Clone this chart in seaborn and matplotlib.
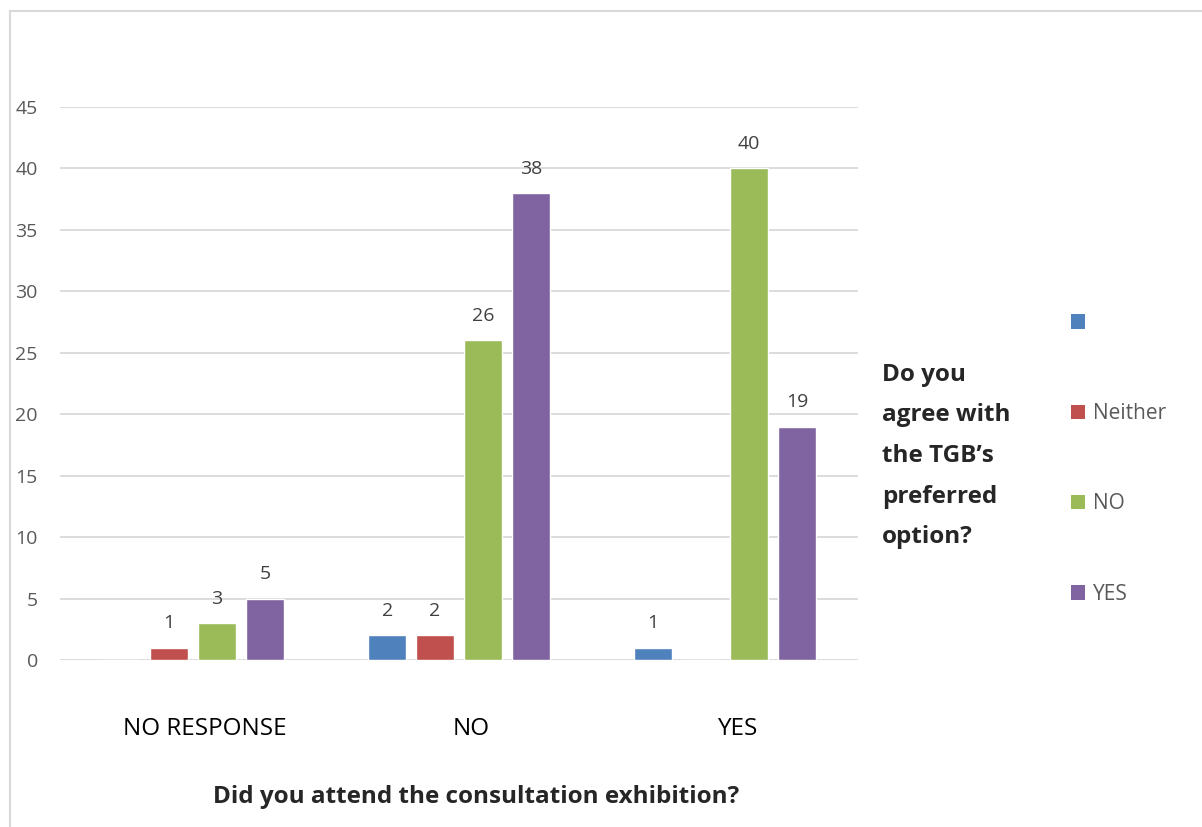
import pandas as pd
import seaborn as sns
import matplotlib.pyplot as plt
from matplotlib.patches import Patch
from matplotlib.lines import Line2D
from matplotlib.transforms import ScaledTranslation

# data
categories = ['NO RESPONSE', 'NO', 'YES']
series = [' ', 'Neither', 'NO', 'YES']
blank_vals = [0, 2, 1]
neither_vals = [1, 2, 0]
no_vals = [3, 26, 40]
yes_vals = [5, 38, 19]
colors = ['#4F81BD', '#C0504D', '#9BBB59', '#8064A2']
y_ticks = [0, 5, 10, 15, 20, 25, 30, 35, 40, 45]

rows = []
for name, vals in zip(series, [blank_vals, neither_vals, no_vals, yes_vals]):
    for cat, v in zip(categories, vals):
        rows.append({'attended': cat, 'agree': name, 'count': v})
df = pd.DataFrame(rows)

sns.set_style('white')
plt.rcParams['font.family'] = ['Open Sans', 'DejaVu Sans']

fig = plt.figure(figsize=(12.02, 8.27), dpi=100)
W, H = 1202, 827
ax = fig.add_axes([60 / W, 1 - 660 / H, 798 / W, 553 / H])

sns.barplot(data=df, x='attended', y='count', hue='agree', order=categories,
            hue_order=series, palette=colors, width=0.72, gap=0.2,
            saturation=1, errorbar=None, legend=False, ax=ax)

for cont in ax.containers:
    labels = ['' if b.get_height() == 0 else '%d' % b.get_height() for b in cont]
    ax.bar_label(cont, labels=labels, padding=11, fontsize=14, color='#404040')

ax.set_ylim(0, 45)
ax.set_xlim(-0.5, 2.5)
ax.set_yticks(y_ticks)
ax.yaxis.grid(True, color='#D9D9D9', linewidth=1.3)
ax.set_axisbelow(True)
for s in ax.spines.values():
    s.set_visible(False)
ax.tick_params(axis='y', length=0, pad=16, labelsize=14, labelcolor='#595959')
ax.tick_params(axis='x', length=0, pad=41, labelsize=17.5, labelcolor='#000000')
# category labels sit a little right of the bar groups, as in the original
for lab in ax.get_xticklabels():
    lab.set_transform(lab.get_transform() + ScaledTranslation(0.12, 0, fig.dpi_scale_trans))
ax.set_ylabel('')
ax.set_xlabel('Did you attend the consultation exhibition?', fontsize=17.5,
              fontweight='bold', labelpad=30)
ax.xaxis.set_label_coords((476 - 60) / 798, -(797 - 660) / 553)
ax.xaxis.label.set_va('center')

# legend on the right with its title to the left
handles = [Patch(facecolor=c, edgecolor='none') for c in colors]
leg = fig.legend(handles, series, loc='upper left',
                 bbox_to_anchor=(1052 / W, 1 - 294 / H), frameon=False,
                 fontsize=15, labelspacing=3.33, handlelength=0.7,
                 handleheight=0.7, handletextpad=0.35, labelcolor='#595959')
fig.text(882 / W, 1 - 456 / H, "Do you\nagree with\nthe TGB\u2019s\npreferred\noption?",
         fontsize=17.5, fontweight='bold', va='center', ha='left', linespacing=1.93)

# chart border (top and left visible)
fig.add_artist(Line2D([10 / W, 10 / W], [0, 1 - 11 / H], color='#D9D9D9', lw=1.5))
fig.add_artist(Line2D([10 / W, 1], [1 - 11 / H, 1 - 11 / H], color='#D9D9D9', lw=1.5))

fig.savefig('out.png', dpi=100)
